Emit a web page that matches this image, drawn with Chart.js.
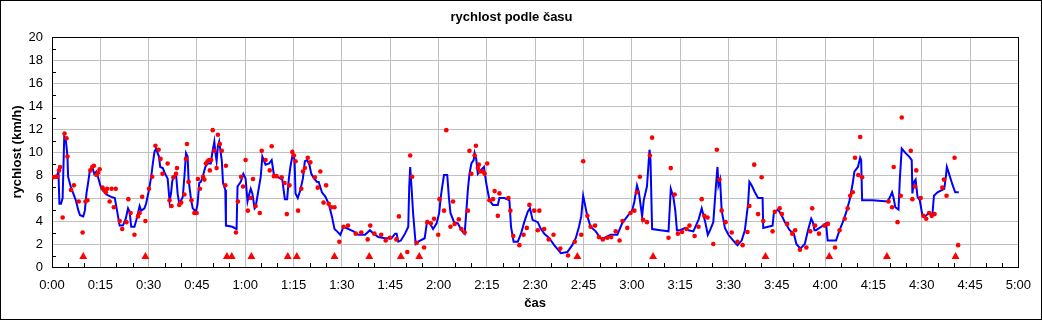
<!DOCTYPE html>
<html>
<head>
<meta charset="utf-8">
<script src="https://cdn.jsdelivr.net/npm/chart.js@4.4.0/dist/chart.umd.min.js"></script>
<style>
body { margin: 0; background: #fff; }
</style>
</head>
<body>
<canvas id="graf" width="1042" height="320"></canvas>
<script>
// modra krivka - cas (min) a rychlost (km/h)
const caraCas = [
    0.1, 1.4, 2.0, 2.3, 2.8, 3.3, 3.8, 4.3, 4.5, 4.8, 5.0, 5.8, 6.6, 7.4, 8.2, 8.7, 9.7, 10.2, 10.7, 11.2,
    11.7, 12.6, 13.1, 13.8, 14.5, 15.3, 16.4, 16.9, 18.4, 19.5, 20.0, 20.5, 21.0, 22.0, 22.9, 23.6, 24.1, 24.6, 25.6, 26.2,
    26.7, 27.2, 27.7, 28.7, 29.2, 30.1, 30.8, 31.3, 31.8, 32.3, 33.2, 33.6, 34.4, 35.1, 35.9, 36.5, 37.0, 37.3, 37.7, 38.5,
    39.0, 39.5, 40.1, 40.6, 41.1, 41.6, 42.1, 42.4, 43.2, 43.7, 44.7, 45.2, 45.7, 46.2, 46.8, 47.6, 48.3, 49.3, 49.8, 50.4,
    50.7, 51.1, 51.5, 51.9, 52.7, 53.1, 53.8, 54.0, 56.0, 57.3, 57.6, 58.6, 59.4, 60.1, 60.7, 61.2, 61.7, 62.2, 62.9, 63.2,
    64.8, 65.3, 66.3, 67.4, 68.2, 68.9, 69.9, 71.5, 72.0, 72.3, 73.0, 73.5, 74.0, 74.8, 75.3, 75.6, 76.3, 77.1, 77.9, 78.5,
    79.2, 79.9, 80.5, 81.3, 82.3, 82.8, 83.8, 84.9, 85.9, 86.9, 87.7, 88.5, 89.5, 90.5,
    92.1, 93.6, 95.1, 97.2, 98.7, 99.8, 101.3, 103.4, 105.4, 106.5, 107.0, 107.5, 108.3, 109.6, 110.6, 110.9, 111.2, 111.6, 112.1, 112.9,
    113.7, 115.7, 116.4, 117.3, 118.3, 119.4, 120.2, 120.7, 121.2, 121.7, 122.7, 123.2, 123.7, 124.8, 126.0, 127.1, 128.1, 128.6, 129.1, 129.6,
    130.2, 130.9, 131.2, 131.7, 132.2, 133.0, 133.8, 134.1, 134.8, 135.8, 136.9, 138.4, 138.9, 140.5, 142.0, 142.5, 143.3, 144.6, 145.6, 146.6,
    147.7, 148.4, 149.2, 150.8, 151.8, 152.8, 154.4, 155.9, 158.0, 160.0, 161.5, 162.6, 163.6, 164.3, 164.9, 165.7, 166.2, 167.2, 168.8, 170.3,
    171.4, 173.4, 175.5, 177.0, 178.6, 180.1, 180.8, 181.6, 182.2, 183.2, 183.7, 184.7, 185.5, 185.8, 186.3, 188.9, 191.4,
    192.1, 192.9, 193.5, 194.0, 195.0, 196.6, 197.6, 199.1, 200.7, 201.7, 202.8, 203.6, 204.3, 205.3, 206.1, 206.6, 206.9, 207.4, 207.9, 208.9,
    210.0, 211.5, 212.8, 214.1, 215.1, 216.1, 216.5, 217.2, 218.2, 219.2, 220.6, 220.8, 222.3, 223.7, 224.1, 225.4, 226.5, 227.5, 229.0, 230.3,
    231.1, 232.3, 233.7, 234.7, 235.7, 236.2, 236.7, 237.2, 238.8, 240.3, 240.8, 243.4, 244.5, 245.5, 246.5, 247.6, 248.6, 249.1, 250.2, 250.9,
    251.2, 251.5, 254.8, 259.4, 260.2, 260.8, 261.2, 261.8, 262.8, 263.2, 263.8, 265.0, 266.1, 266.9, 267.1, 267.6, 268.1, 268.7, 269.4, 270.2,
    271.0, 272.3, 273.3, 273.8, 274.9, 277.0, 277.5, 277.8, 278.5, 279.5, 280.4, 281.5
];
const caraRychlost = [
    7.85, 7.85, 8.3, 5.5, 5.5, 6.0, 11.3, 11.0, 10.5, 9.6, 7.85, 7.0, 6.4, 5.8, 4.9, 4.5, 4.4, 4.9, 6.4, 7.3,
    8.3, 8.6, 8.1, 8.3, 7.6, 6.8, 6.5, 6.3, 6.1, 6.0, 5.2, 4.4, 3.6, 3.6, 4.2, 5.1, 4.8, 3.5, 3.5, 4.1,
    4.7, 5.3, 4.9, 5.1, 5.5, 6.7, 7.85, 9.0, 10.0, 10.3, 9.6, 8.7, 8.6, 8.1, 7.7, 5.7, 6.5, 7.4, 7.85, 8.1,
    6.4, 5.5, 5.8, 6.1, 7.85, 9.9, 9.6, 7.6, 5.8, 5.1, 4.8, 5.5, 7.3, 7.4, 7.85, 8.7, 9.0, 9.0, 10.0, 10.9,
    10.0, 9.2, 10.5, 10.9, 9.3, 7.3, 6.7, 3.6, 3.5, 3.3, 7.0, 7.4, 8.1, 7.7, 5.7, 6.3, 6.8, 6.4, 5.1, 5.2,
    7.85, 9.6, 8.9, 9.0, 9.3, 8.0, 7.85, 7.6, 6.5, 5.9, 5.9, 7.6, 8.7, 9.9, 9.3, 6.4, 6.0, 6.7, 7.7, 9.2,
    9.3, 8.9, 8.1, 7.7, 7.4, 7.4, 6.5, 6.1, 5.5, 4.4, 3.3, 3.1, 2.8, 3.5,
    3.3, 3.1, 2.8, 2.8, 3.2, 2.9, 2.6, 2.5, 2.5, 2.9, 2.9, 2.2, 2.3, 2.9, 3.5, 7.0, 8.7, 7.0, 4.7, 2.0,
    2.2, 2.5, 3.9, 3.8, 3.3, 3.8, 4.7, 6.1, 7.1, 8.0, 8.0, 6.1, 4.7, 3.9, 3.8, 3.2, 2.9, 4.7, 6.7, 8.1,
    9.0, 9.3, 9.9, 9.4, 8.1, 8.4, 8.6, 8.7, 7.3, 5.8, 5.4, 5.4, 6.0, 6.0, 5.8, 3.5, 2.2, 2.2, 2.9, 3.9,
    4.8, 5.1, 4.1, 3.9, 3.3, 2.9, 2.5, 1.9, 1.2, 1.3, 1.9, 2.5, 3.5, 4.4, 6.2, 5.1, 4.4, 3.5, 3.1, 2.5,
    2.5, 2.8, 2.8, 3.8, 4.4, 4.9, 5.7, 7.1, 6.5, 4.4, 5.8, 7.0, 10.2, 9.3, 3.3, 3.2, 3.1,
    6.8, 6.1, 4.9, 3.2, 3.2, 3.4, 3.2, 3.1, 4.1, 5.1, 3.9, 2.8, 3.2, 3.9, 7.0, 8.7, 7.1, 7.6, 4.9, 3.4,
    2.8, 2.3, 1.9, 2.3, 3.2, 5.5, 7.4, 7.1, 6.5, 6.0, 6.0, 3.4, 3.5, 3.6, 4.7, 5.0, 4.5, 3.9, 3.2, 2.9,
    2.0, 1.6, 2.0, 3.2, 4.2, 3.9, 3.2, 3.2, 3.5, 3.8, 2.3, 2.3, 3.2, 3.9, 4.7, 5.8, 7.3, 8.3, 8.7, 9.5,
    9.3, 5.8, 5.8, 5.7, 6.1, 6.5, 6.1, 5.2, 5.0, 7.6, 10.3, 9.9, 9.6, 9.3, 6.4, 7.4, 7.6, 6.1, 5.8, 4.5,
    4.4, 4.7, 4.5, 6.2, 6.5, 6.8, 7.85, 8.7, 8.1, 7.2, 6.5, 6.5
];

// cervene body - namerene hodnoty
const bodyCas = [
    0.4, 1.1, 1.6, 2.2, 2.5, 3.3, 3.9, 4.5, 4.8, 5.9, 6.8, 8.3, 9.5, 10.4, 11.0, 11.9, 12.5, 13.0, 13.8, 14.3,
    14.8, 15.7, 16.2, 16.7, 17.1, 17.9, 18.5, 19.2, 19.8, 21.0, 21.8, 23.1, 23.7, 24.4, 25.6, 26.7, 27.2, 28.0, 29.0, 30.1,
    31.1, 32.1, 33.1, 33.7, 34.3, 35.9, 36.5, 37.1, 37.7, 38.5, 38.8, 39.5, 40.1, 41.1, 41.6, 41.9, 42.4, 43.3, 44.2, 44.9,
    45.3, 45.9, 46.9, 47.3, 47.8, 48.3, 48.8, 49.0, 49.4, 49.9, 50.4, 51.1, 51.5, 52.1, 52.7, 53.8, 54.0, 57.1, 57.7, 58.7,
    59.3, 60.1, 60.8, 61.7, 62.4, 63.2, 64.5, 65.1, 66.3, 67.6, 68.2, 68.9, 69.7, 71.3, 72.2, 72.9, 73.7, 74.6, 75.1, 75.6,
    76.4, 77.4, 77.9, 78.5, 79.4, 80.2, 81.6, 82.5, 83.3, 84.3, 85.1, 85.9, 86.7, 87.7, 89.2, 90.5, 91.9,
    94.3, 96.0, 98.0, 98.8, 100.1, 102.2, 103.6, 104.9, 106.9, 107.7, 110.3, 111.2, 111.8, 113.2, 115.5, 116.5, 117.6, 118.6, 119.9, 120.3,
    121.7, 122.4, 123.7, 124.5, 125.0, 126.3, 127.1, 128.1, 129.1, 129.6, 130.2, 131.2, 131.6, 132.2, 132.5, 132.9, 133.8, 134.3, 135.1, 135.8,
    136.9, 137.4, 138.4, 138.9, 141.7, 142.3, 143.2, 145.1, 146.4, 147.4, 148.2, 149.7, 150.8, 151.3, 152.8, 154.2, 155.7, 157.8, 160.2, 162.3,
    164.3, 164.9, 166.2, 167.2, 168.6, 169.8, 171.0, 172.4, 173.6, 175.0, 176.2, 177.1, 178.6, 179.6, 180.8, 181.6, 182.5, 183.5, 184.7, 185.6,
    186.3, 191.4, 192.1, 193.3,
    194.3, 195.6, 197.0, 197.9, 199.5, 200.7, 201.7, 202.5, 203.5, 205.3, 206.4, 207.2, 207.9, 209.1, 211.0, 212.8, 214.4, 215.9, 216.5, 218.0,
    219.2, 220.3, 220.8, 223.7, 224.4, 225.9, 226.6, 228.2, 229.8, 230.7, 232.2, 234.2, 235.4, 236.0, 236.9, 238.1, 239.8, 240.9, 243.1, 244.5,
    246.1, 247.0, 247.8, 248.6, 249.3, 250.3, 250.9, 251.5, 259.7, 260.8, 261.3, 262.5, 263.5, 263.8, 266.6, 267.1, 267.9, 268.3, 269.7, 270.5,
    271.4, 272.3, 273.1, 274.0, 276.4, 276.9, 277.7, 280.2, 281.3
];
const bodyRychlost = [
    7.8, 7.85, 7.85, 8.4, 8.7, 4.3, 11.6, 11.2, 9.6, 6.7, 7.1, 5.7, 3.0, 5.7, 5.8, 8.4, 8.7, 8.8, 8.0, 8.2,
    8.5, 6.9, 6.7, 6.5, 6.8, 5.7, 6.8, 5.2, 6.8, 4.0, 3.3, 3.9, 5.9, 4.7, 2.8, 4.4, 4.7, 6.1, 4.0, 6.8,
    7.85, 10.55, 10.2, 9.4, 8.1, 9.0, 5.8, 5.3, 7.8, 8.1, 8.6, 5.4, 5.6, 6.3, 9.4, 10.7, 7.4, 5.8, 4.7, 4.7,
    7.65, 6.8, 7.85, 7.6, 9.0, 9.2, 9.3, 8.4, 9.3, 11.9, 10.1, 8.6, 11.5, 10.7, 10.1, 7.1, 8.8, 3.0, 5.7, 7.85,
    7.0, 9.3, 4.9, 6.0, 7.65, 5.3, 4.7, 10.1, 9.3, 8.4, 10.5, 7.9, 7.9, 7.8, 7.3, 4.6, 7.1, 10.0, 9.7, 9.2,
    4.9, 6.8, 8.3, 8.6, 9.5, 9.1, 7.8, 6.9, 8.3, 5.6, 7.1, 5.5, 5.2, 5.2, 2.2, 3.5, 3.6,
    2.9, 3.0, 2.4, 3.6, 2.9, 2.8, 2.3, 2.55, 2.4, 4.4, 1.3, 9.7, 7.85, 2.1, 1.7, 3.9, 3.8, 4.2, 2.8, 5.9,
    4.9, 11.9, 3.5, 5.7, 3.75, 4.15, 3.3, 3.0, 4.9, 10.1, 8.1, 9.7, 10.55, 8.6, 8.9, 8.3, 8.3, 8.1, 9.0, 5.8,
    5.9, 6.6, 4.45, 6.4, 6.0, 4.9, 2.7, 1.9, 2.8, 3.4, 5.4, 4.9, 3.2, 4.9, 3.3, 2.4, 2.8, 1.6, 1.0, 2.2,
    2.8, 9.2, 4.45, 3.5, 3.6, 2.6, 2.4, 2.55, 2.6, 3.1, 2.3, 4.0, 3.4, 4.7, 4.9, 6.5, 7.85, 4.1, 3.9, 9.7,
    11.25, 2.55, 8.6, 6.3,
    2.9, 3.05, 3.3, 3.6, 2.7, 3.5, 5.9, 4.45, 4.3, 2.0, 10.2, 7.6, 4.9, 3.9, 3.0, 2.2, 1.9, 3.05, 5.3, 8.9,
    4.6, 7.8, 4.0, 3.1, 4.8, 5.1, 4.6, 3.75, 2.9, 3.2, 1.5, 1.7, 3.1, 5.1, 3.6, 2.9, 3.6, 3.75, 1.7, 3.2,
    4.2, 5.1, 6.2, 6.5, 9.5, 8.0, 11.3, 7.8, 5.7, 5.2, 8.7, 3.9, 6.2, 13.0, 10.1, 5.9, 7.0, 8.4, 6.0, 4.45,
    4.2, 4.7, 4.45, 4.6, 6.9, 7.6, 6.2, 9.5, 1.9
];

// cervene trojuhelniky
const znackyCas = [9.7, 29.0, 54.3, 55.8, 61.9, 73.2, 76.0, 87.7, 98.5, 108.3, 114.0, 163.1, 186.6, 221.5, 241.3, 259.2, 280.5];
const znackyRychlost = znackyCas.map(() => 0.9);

const pismo = "'Liberation Sans', Arial, sans-serif";
Chart.defaults.font.family = pismo;
Chart.defaults.color = '#000';

function body(xs, ys) {
    return xs.map((x, i) => ({ x: x, y: ys[i] }));
}

function casText(v) {
    const m = Math.round(v);
    return Math.floor(m / 60) + ':' + String(m % 60).padStart(2, '0');
}

// ramecek, okraj grafu a male dilky
const ramecek = {
    id: 'ramecek',
    beforeDraw(chart) {
        const c = chart.ctx;
        c.save();
        c.fillStyle = '#fff';
        c.fillRect(0, 0, chart.width, chart.height);
        c.restore();
    },
    beforeDatasetsDraw(chart) {
        const c = chart.ctx;
        const a = chart.chartArea;
        const sx = chart.scales.x;
        const sy = chart.scales.y;
        c.save();
        c.strokeStyle = '#000';
        c.lineWidth = 1;
        c.beginPath();
        for (let t = 5; t < 300; t += 5) {
            if (t % 15 === 0) continue;
            const x = Math.round(sx.getPixelForValue(t)) + 0.5;
            c.moveTo(x, a.bottom);
            c.lineTo(x, a.bottom - 4);
        }
        for (let v = 1; v < 20; v += 2) {
            const y = Math.round(sy.getPixelForValue(v)) + 0.5;
            c.moveTo(a.left, y);
            c.lineTo(a.left + 4, y);
        }
        c.stroke();
        c.strokeRect(Math.round(a.left) + 0.5, Math.round(a.top) + 0.5,
            Math.round(a.right - a.left), Math.round(a.bottom - a.top));
        c.restore();
    },
    afterDraw(chart) {
        const c = chart.ctx;
        c.save();
        c.strokeStyle = '#000';
        c.lineWidth = 1;
        c.strokeRect(0.5, 0.5, chart.width - 1, chart.height - 1);
        c.restore();
    }
};

new Chart(document.getElementById('graf'), {
    type: 'scatter',
    data: {
        datasets: [{
            label: 'rychlost',
            data: body(caraCas, caraRychlost),
            showLine: true,
            borderColor: '#0000ff',
            borderWidth: 2,
            pointRadius: 0,
            tension: 0,
            order: 2
        }, {
            label: 'body',
            data: body(bodyCas, bodyRychlost),
            showLine: false,
            pointRadius: 2.3,
            pointStyle: 'circle',
            backgroundColor: '#ff0000',
            borderWidth: 0,
            order: 0
        }, {
            label: 'znacky',
            data: body(znackyCas, znackyRychlost),
            showLine: false,
            pointRadius: 4.6,
            pointStyle: 'triangle',
            backgroundColor: '#ff0000',
            borderColor: '#ff0000',
            borderWidth: 0,
            order: 0
        }]
    },
    options: {
        responsive: false,
        animation: false,
        devicePixelRatio: 1,
        layout: { padding: { left: 0, right: 19, top: 0, bottom: 0 } },
        plugins: {
            legend: { display: false },
            tooltip: { enabled: false },
            title: {
                display: true,
                text: 'rychlost podle času',
                color: '#000',
                font: { family: pismo, size: 13, weight: 'bold' },
                padding: { top: 9.2, bottom: 12.2 }
            }
        },
        scales: {
            x: {
                type: 'linear',
                min: 0,
                max: 300,
                afterFit: s => { s.height = 53; },
                ticks: {
                    stepSize: 15,
                    autoSkip: false,
                    maxRotation: 0,
                    padding: 11,
                    color: '#000',
                    font: { size: 13 },
                    callback: v => casText(v)
                },
                grid: { color: '#c0c0c0', lineWidth: 1, drawTicks: false },
                border: { display: true, color: '#000', width: 1 },
                title: {
                    display: true,
                    text: 'čas',
                    color: '#000',
                    font: { family: pismo, size: 13, weight: 'bold' },
                    padding: { top: 0, bottom: 9.2 }
                }
            },
            y: {
                min: 0,
                max: 20,
                afterFit: s => { s.width = 52; },
                ticks: {
                    stepSize: 2,
                    padding: 9,
                    color: '#000',
                    font: { size: 13 }
                },
                grid: { color: '#c0c0c0', lineWidth: 1, drawTicks: false },
                border: { display: true, color: '#000', width: 1 },
                title: {
                    display: true,
                    text: 'rychlost (km/h)',
                    color: '#000',
                    font: { family: pismo, size: 13, weight: 'bold' },
                    padding: { top: 10, bottom: 0 }
                }
            }
        }
    },
    plugins: [ramecek]
});
</script>
</body>
</html>
